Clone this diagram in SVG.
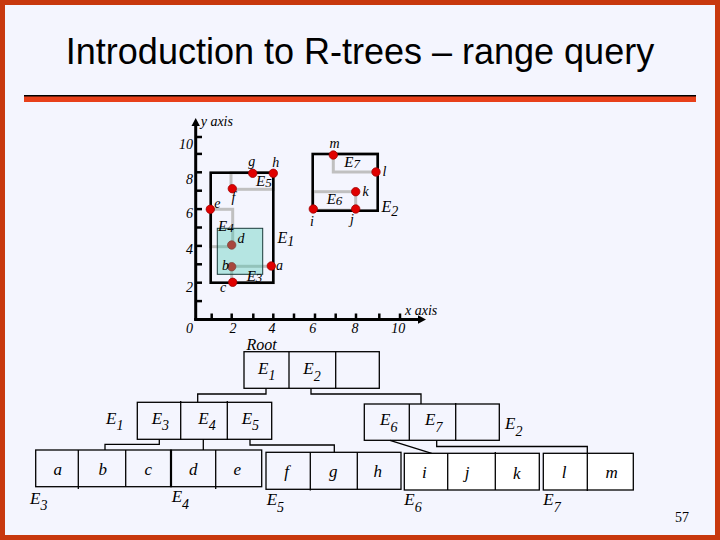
<svg xmlns="http://www.w3.org/2000/svg" width="720" height="540" viewBox="0 0 720 540">
<defs>
<style>
.lbl{font-family:"Liberation Serif","Times New Roman",serif;font-style:italic;fill:#000}
.s14{font-size:14px}
.s16{font-size:16px}
.t17{font-size:17px}
.box{fill:none;stroke:#000;stroke-width:1.3}
.wbox{fill:#ffffff;stroke:#000;stroke-width:1.3}
.div{stroke:#000;stroke-width:1.3}
.gray{fill:none;stroke:#c0c0c0;stroke-width:3}
.blk{fill:none;stroke:#000;stroke-width:2.6}
.pt{fill:#e00000;stroke:#a00000;stroke-width:0.8}
.tick{stroke:#000;stroke-width:2.5}
.con{fill:none;stroke:#000;stroke-width:1.3}
</style>
</defs>
<rect x="0" y="0" width="720" height="540" fill="#c8380e"/>
<rect x="5" y="5" width="710" height="530" fill="#f4f5fe"/>
<text x="360" y="64" text-anchor="middle" font-family="Liberation Sans, Arial, sans-serif" font-size="36" fill="#000">Introduction to R-trees – range query</text>
<rect x="24" y="95" width="672" height="3" fill="#000"/>
<rect x="24" y="96.5" width="672" height="5.5" fill="#e8401a"/>

<g id="plot">
<g id="axes">
<line x1="195.7" y1="124" x2="195.7" y2="320.5" stroke="#000" stroke-width="3"/>
<polygon points="195.7,118 191.5,126 199.9,126" fill="#000"/>
<line x1="194.2" y1="319.5" x2="420" y2="319.5" stroke="#000" stroke-width="3"/>
<polygon points="426,319.5 418,315.3 418,323.7" fill="#000"/>
<g class="tick">
<line x1="195.7" y1="301.1" x2="202" y2="301.1"/>
<line x1="195.7" y1="282.7" x2="202" y2="282.7"/>
<line x1="195.7" y1="264.3" x2="202" y2="264.3"/>
<line x1="195.7" y1="245.9" x2="202" y2="245.9"/>
<line x1="195.7" y1="227.5" x2="202" y2="227.5"/>
<line x1="195.7" y1="209.1" x2="202" y2="209.1"/>
<line x1="195.7" y1="190.7" x2="202" y2="190.7"/>
<line x1="195.7" y1="172.3" x2="202" y2="172.3"/>
<line x1="195.7" y1="153.9" x2="202" y2="153.9"/>
<line x1="195.7" y1="137" x2="202" y2="137"/>
<line x1="211.7" y1="313.5" x2="211.7" y2="319.5"/>
<line x1="231.7" y1="313.5" x2="231.7" y2="319.5"/>
<line x1="253.3" y1="313.5" x2="253.3" y2="319.5"/>
<line x1="273.3" y1="313.5" x2="273.3" y2="319.5"/>
<line x1="294" y1="313.5" x2="294" y2="319.5"/>
<line x1="315" y1="313.5" x2="315" y2="319.5"/>
<line x1="335.7" y1="313.5" x2="335.7" y2="319.5"/>
<line x1="356" y1="313.5" x2="356" y2="319.5"/>
<line x1="379.3" y1="313.5" x2="379.3" y2="319.5"/>
<line x1="400" y1="313.5" x2="400" y2="319.5"/>
</g>
<g class="lbl s14">
<text x="200.7" y="126">y axis</text>
<text x="405" y="315">x axis</text>
<text x="193" y="149" text-anchor="end">10</text>
<text x="193" y="184" text-anchor="end">8</text>
<text x="193" y="217.5" text-anchor="end">6</text>
<text x="193" y="254" text-anchor="end">4</text>
<text x="193" y="291.5" text-anchor="end">2</text>
<text x="189.5" y="332.5" text-anchor="middle">0</text>
<text x="233" y="332.5" text-anchor="middle">2</text>
<text x="272" y="332.5" text-anchor="middle">4</text>
<text x="312.7" y="332.5" text-anchor="middle">6</text>
<text x="355" y="332.5" text-anchor="middle">8</text>
<text x="398.3" y="332.5" text-anchor="middle">10</text>
</g>
</g>
<g id="mbrs">
<rect class="gray" x="231" y="172.7" width="42.3" height="16.6"/>
<rect class="gray" x="210.7" y="209.3" width="22" height="37.4"/>
<rect class="gray" x="231.7" y="266.3" width="41.6" height="16.4"/>
<rect class="gray" x="333.3" y="154" width="44.4" height="18"/>
<rect class="gray" x="313" y="191.7" width="42.7" height="18.5"/>
<rect id="E1" class="blk" x="210.7" y="172.7" width="62.6" height="110"/>
<rect id="E2" class="blk" x="312.7" y="154" width="65" height="56.7"/>
</g>
<g id="points-inside">
<circle class="pt" cx="231.7" cy="245" r="4.2"/>
<circle class="pt" cx="231.7" cy="266.7" r="4.2"/>
</g>
<rect id="query" x="217.3" y="228.3" width="45.4" height="46" fill="#40c8b0" fill-opacity="0.35" stroke="#1a3a3a" stroke-width="1"/>
<g id="points">
<circle class="pt" cx="271.3" cy="266" r="4.2"/>
<circle class="pt" cx="232.7" cy="282.3" r="4.2"/>
<circle class="pt" cx="210.3" cy="209.3" r="4.2"/>
<circle class="pt" cx="232.3" cy="188.7" r="4.2"/>
<circle class="pt" cx="252.7" cy="173.3" r="4.2"/>
<circle class="pt" cx="273.3" cy="173.3" r="4.2"/>
<circle class="pt" cx="333.3" cy="155" r="4.2"/>
<circle class="pt" cx="376" cy="172" r="4.2"/>
<circle class="pt" cx="355.7" cy="191.7" r="4.2"/>
<circle class="pt" cx="313.3" cy="209" r="4.2"/>
<circle class="pt" cx="355.7" cy="209" r="4.2"/>
</g>
<g class="lbl s14">
<text x="276" y="270">a</text>
<text x="222" y="270">b</text>
<text x="220" y="291.7">c</text>
<text x="237.5" y="243">d</text>
<text x="214.3" y="208.3">e</text>
<text x="231.5" y="202">f</text>
<text x="248.3" y="166">g</text>
<text x="272.3" y="167">h</text>
<text x="329.5" y="148">m</text>
<text x="382.5" y="176">l</text>
<text x="362.5" y="196">k</text>
<text x="310" y="226">i</text>
<text x="350" y="224">j</text>
<text x="256" y="186" font-size="15">E<tspan font-size="13" dy="1">5</tspan></text>
<text x="344.3" y="167" font-size="15">E<tspan font-size="13" dy="1">7</tspan></text>
<text x="326.7" y="204" font-size="15">E<tspan font-size="13" dy="1">6</tspan></text>
<text x="218" y="231" font-size="15">E<tspan font-size="13" dy="1">4</tspan></text>
<text x="246.7" y="281" font-size="15">E<tspan font-size="13" dy="1">3</tspan></text>
<text x="277.5" y="243.3" font-size="16">E<tspan font-size="14" dy="2.5">1</tspan></text>
<text x="381.5" y="211.5" font-size="16">E<tspan font-size="14" dy="4.5">2</tspan></text>
</g>
</g>

<g id="connectors" class="con">
<path d="M266,388.3 V394 H197.7 V402.3"/>
<path d="M311,388.3 V394 H421 V404"/>
<path d="M159.3,439.3 V444.3 H105 V450"/>
<path d="M203.3,439.3 V450"/>
<path d="M250,439.3 V445 H334.3 V452.3"/>
<path d="M390,440.3 L431.7,453.3"/>
<path d="M436.7,440.3 V446.5 H587.3 V453.3"/>
</g>

<g id="root">
<text class="lbl s16" x="246.5" y="349.5">Root</text>
<rect class="box" x="244" y="351.7" width="135.3" height="36.6"/>
<line class="div" x1="289" y1="351.7" x2="289" y2="388.3"/>
<line class="div" x1="335.7" y1="351.7" x2="335.7" y2="388.3"/>
<text class="lbl t17" x="258" y="374">E<tspan font-size="14" dy="6">1</tspan></text>
<text class="lbl t17" x="303.3" y="374">E<tspan font-size="14" dy="6.5">2</tspan></text>
</g>

<g id="nodeE1">
<rect class="box" x="137.3" y="402.3" width="134.4" height="37"/>
<line class="div" x1="180.7" y1="401" x2="180.7" y2="440"/>
<line class="div" x1="227.3" y1="401" x2="227.3" y2="440"/>
<text class="lbl t17" x="151.7" y="423.5">E<tspan font-size="14" dy="6.5">3</tspan></text>
<text class="lbl t17" x="198.3" y="423.5">E<tspan font-size="14" dy="6.5">4</tspan></text>
<text class="lbl t17" x="241.7" y="423.5">E<tspan font-size="14" dy="6.5">5</tspan></text>
<text class="lbl t17" x="106" y="423.5">E<tspan font-size="14" dy="6.5">1</tspan></text>
</g>

<g id="nodeE2">
<rect class="box" x="364.3" y="404" width="135" height="36.3"/>
<line class="div" x1="409.3" y1="404" x2="409.3" y2="440.3"/>
<line class="div" x1="455.7" y1="403" x2="455.7" y2="440.3"/>
<text class="lbl t17" x="380" y="425">E<tspan font-size="14" dy="6.5">6</tspan></text>
<text class="lbl t17" x="425" y="425">E<tspan font-size="14" dy="6.5">7</tspan></text>
<text class="lbl t17" x="505" y="429.3">E<tspan font-size="14" dy="6.5">2</tspan></text>
</g>

<g id="leafE3">
<rect class="box" x="35.7" y="450" width="135.3" height="36.7"/>
<line class="div" x1="78.3" y1="450" x2="78.3" y2="489"/>
<line class="div" x1="125.7" y1="450" x2="125.7" y2="486.7"/>
<text class="lbl t17" x="57.7" y="474.5" text-anchor="middle">a</text>
<text class="lbl t17" x="102.7" y="474.5" text-anchor="middle">b</text>
<text class="lbl t17" x="148.3" y="474.5" text-anchor="middle">c</text>
<text class="lbl t17" x="30" y="503.5">E<tspan font-size="14" dy="6.5">3</tspan></text>
</g>

<g id="leafE4">
<rect class="box" x="171" y="450" width="90.7" height="36.7"/>
<line x1="171" y1="450" x2="171" y2="486.7" stroke="#000" stroke-width="2.2"/>
<line class="div" x1="215.7" y1="450" x2="215.7" y2="489"/>
<text class="lbl t17" x="193.3" y="474.5" text-anchor="middle">d</text>
<text class="lbl t17" x="237.3" y="474.5" text-anchor="middle">e</text>
<text class="lbl t17" x="171.7" y="502">E<tspan font-size="14" dy="6.5">4</tspan></text>
</g>

<g id="leafE5">
<rect class="box" x="266" y="452.3" width="135" height="37"/>
<line class="div" x1="310.3" y1="452.3" x2="310.3" y2="490.5"/>
<line class="div" x1="357.3" y1="452.3" x2="357.3" y2="489.3"/>
<text class="lbl t17" x="286.7" y="477" text-anchor="middle">f</text>
<text class="lbl t17" x="333.3" y="477" text-anchor="middle">g</text>
<text class="lbl t17" x="377.7" y="477" text-anchor="middle">h</text>
<text class="lbl t17" x="266.7" y="505">E<tspan font-size="14" dy="6.5">5</tspan></text>
</g>

<g id="leafE6">
<rect class="wbox" x="404.3" y="453.3" width="135" height="36.7"/>
<line class="div" x1="447.7" y1="453.3" x2="447.7" y2="490"/>
<line class="div" x1="495.3" y1="452" x2="495.3" y2="490"/>
<text class="lbl t17" x="424.3" y="478" text-anchor="middle">i</text>
<text class="lbl t17" x="467" y="478" text-anchor="middle">j</text>
<text class="lbl t17" x="516.7" y="479" text-anchor="middle">k</text>
<text class="lbl t17" x="404.3" y="505">E<tspan font-size="14" dy="6.5">6</tspan></text>
</g>

<g id="leafE7">
<rect class="wbox" x="543.3" y="453.3" width="90" height="36.7"/>
<line class="div" x1="587.3" y1="453.3" x2="587.3" y2="491"/>
<text class="lbl t17" x="564" y="478" text-anchor="middle">l</text>
<text class="lbl t17" x="611.7" y="478" text-anchor="middle">m</text>
<text class="lbl t17" x="543.3" y="505">E<tspan font-size="14" dy="6.5">7</tspan></text>
</g>

<text x="675" y="521.5" font-family="Liberation Serif, Times New Roman, serif" font-size="14" fill="#000">57</text>
</svg>
